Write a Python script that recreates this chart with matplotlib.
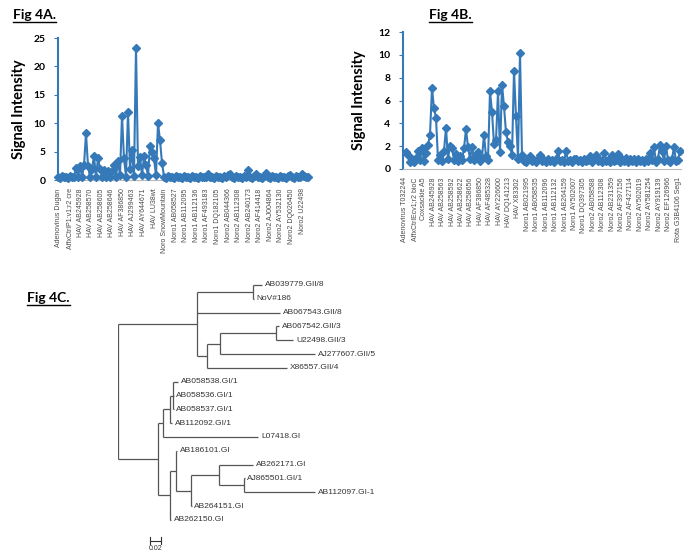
import numpy as np
import matplotlib
matplotlib.use('Agg')
import matplotlib.pyplot as plt
from matplotlib.lines import Line2D

BLUE = '#3579B8'
TREE_COLOR = '#555555'

# Fig 4A: signal intensity per probe (probes in array order)
sig_a = [0.6, 0.4, 0.7, 0.5, 0.6, 0.4, 0.7, 0.5, 0.6, 2.2,
         0.5, 2.4, 0.6, 2.6, 8.2, 2.5, 0.5, 2.0, 4.2, 0.6,
         3.8, 2.0, 0.5, 1.8, 0.6, 1.6, 0.5, 1.5, 2.6, 0.6,
         3.3, 0.8, 11.3, 3.8, 0.6, 12.0, 2.0, 5.2, 0.7, 23.3,
         2.5, 4.1, 0.8, 4.2, 2.6, 0.7, 6.0, 5.0, 3.8, 0.8,
         10.0, 7.0, 3.0, 0.6, 0.4, 0.7, 0.5, 0.6, 0.4, 0.7,
         0.5, 0.6, 0.4, 0.7, 0.5, 0.6, 0.4, 0.7, 0.5, 0.6,
         0.4, 0.7, 0.5, 0.6, 0.5, 1.0, 0.5, 0.6, 0.4, 0.7,
         0.5, 0.6, 0.4, 0.7, 0.5, 0.9, 1.1, 0.6, 0.4, 0.7,
         0.5, 0.6, 0.4, 0.7, 0.5, 1.7, 0.6, 0.4, 0.7, 1.0,
         0.5, 0.6, 0.4, 0.7, 1.2, 0.6, 0.4, 0.7, 0.5, 0.6,
         0.4, 0.7, 0.5, 0.6, 0.4, 0.7, 0.9, 0.6, 0.4, 0.7,
         0.5, 0.6, 1.1, 0.7, 0.5, 0.6]

labels_a = ['Adenovirus Dugan', 'AffxCtrlP1:v1;r2 cre', 'HAV AB245928',
            'HAV AB258570', 'HAV AB258605', 'HAV AB258646', 'HAV AF386850',
            'HAV AJ299463', 'HAV AY644671', 'HAV LU38wt', 'Noro SnowMountain',
            'Noro1 AB058527', 'Noro1 AB112095', 'Noro1 AB112136',
            'Noro1 AF493183', 'Noro1 DQ182105', 'Noro2 AB044366',
            'Noro2 AB112308', 'Noro2 AB240173', 'Noro2 AF414418',
            'Noro2 AJ004864', 'Noro2 AY532130', 'Noro2 DQ026450', 'Noro2 U22498']

# Fig 4B
sig_b = [1.5, 1.2, 0.6, 0.9, 0.6, 1.0, 1.6, 0.8, 1.8, 0.7,
         1.4, 2.1, 3.0, 7.1, 5.3, 4.5, 0.8, 1.2, 0.7, 1.6,
         3.6, 0.9, 2.0, 1.8, 0.8, 1.3, 0.7, 1.1, 0.8, 1.8,
         3.5, 1.9, 0.9, 1.9, 0.8, 1.2, 1.5, 0.7, 1.0, 3.0,
         1.1, 0.8, 6.8, 5.0, 2.2, 2.5, 6.8, 1.5, 7.4, 5.5,
         3.2, 2.4, 2.0, 1.2, 8.6, 4.6, 0.9, 10.2, 1.2, 0.7,
         0.6, 0.9, 1.1, 0.7, 0.8, 0.6, 0.9, 1.2, 0.7, 0.8,
         0.6, 0.9, 0.7, 0.8, 0.6, 0.9, 1.6, 0.7, 0.8, 0.6,
         1.6, 0.7, 0.8, 0.6, 0.9, 0.9, 0.7, 0.8, 0.6, 0.9,
         0.7, 0.8, 1.1, 0.6, 0.9, 1.2, 0.7, 0.8, 0.6, 1.4,
         0.7, 0.8, 0.6, 1.2, 0.7, 0.8, 1.3, 0.6, 0.9, 0.7,
         1.0, 0.6, 0.9, 0.7, 0.9, 0.6, 0.9, 0.7, 0.8, 0.6,
         0.9, 0.7, 1.4, 0.8, 1.9, 0.6, 0.9, 2.1, 1.6, 0.7,
         2.0, 0.8, 0.6, 0.9, 1.9, 0.7, 0.8, 1.6]

labels_b = ['Adenovirus T032244', 'AffxCtrlEcv1;r2 bioC', 'Coxsackie A5',
            'HAV AB245928', 'HAV AB258563', 'HAV AB258592', 'HAV AB258622',
            'HAV AB258656', 'HAV AF386850', 'HAV AF485328', 'HAV AY226600',
            'HAV DQ141213', 'HAV X83302', 'Noro1 AB021995', 'Noro1 AB058535',
            'Noro1 AB112096', 'Noro1 AB112132', 'Noro1 AB264159',
            'Noro1 AY502007', 'Noro1 DQ397305', 'Noro2 AB058588',
            'Noro2 AB112308', 'Noro2 AB231359', 'Noro2 AF397156',
            'Noro2 AF427114', 'Noro2 AY502019', 'Noro2 AY581254',
            'Noro2 AY919139', 'Noro2 EF126966', 'Rota G3B4106 Seg1']

# Fig 4C: (name, branch length, children)
tree = ('', 0.0, [
    ('', 0.144, [
        ('', 0.102, [('AB039779.GII/8', 0.016), ('NoV#186', 0.001)]),
        ('AB067543.GII/8', 0.151),
        ('', 0.018, [
            ('', 0.024, [
                ('', 0.102, [('AB067542.GII/3', 0.005), ('U22498.GII/3', 0.031)]),
                ('AJ277607.GII/5', 0.173)]),
            ('X86557.GII/4', 0.145)])]),
    ('', 0.073, [
        ('', 0.009, [
            ('', 0.013, [
                ('', 0.005, [('AB058538.GI/1', 0.009), ('AB058536.GI/1', 0.001),
                             ('AB058537.GI/1', 0.001)]),
                ('AB112092.GI/1', 0.004)]),
            ('L07418.GI', 0.173)]),
        ('', 0.022, [
            ('', 0.011, [
                ('AB186101.GI', 0.001),
                ('', 0.027, [
                    ('', 0.051, [
                        ('AB262171.GI', 0.062),
                        ('', 0.045, [('AJ865501.GI/1', 0.001), ('AB112097.GI-1', 0.129)])]),
                    ('AB264151.GI', 0.001)])]),
            ('AB262150.GI', 0.001)])])])
scale_len = 0.02

fig = plt.figure(figsize=(6.84, 5.54), dpi=100)
W, H = 684.0, 554.0


def px_rect(left, top, right, bottom):
    return [left / W, 1 - bottom / H, (right - left) / W, (bottom - top) / H]


def signal_plot(rect, values, labels, label_pos, xlim, ymax, ystep, lab_x):
    ax = fig.add_axes(rect)
    ax.patch.set_visible(False)
    ax.plot(range(len(values)), values, color=BLUE, lw=1.5, marker='D',
            ms=4.2, clip_on=False, zorder=3)
    ax.set_xlim(xlim)
    ax.set_ylim(0, ymax)
    ax.set_yticks(np.arange(0, ymax + 0.1, ystep))
    ax.set_xticks(label_pos)
    ax.set_xticklabels(labels, rotation=90, fontsize=5,
                       family='Liberation Sans', color='#4a4a4a')
    ax.tick_params(axis='x', length=0, pad=6)
    ax.tick_params(axis='y', length=3, color=BLUE, labelsize=7.5, pad=6)
    for t in ax.get_yticklabels():
        t.set_fontweight('bold')
        t.set_family('Lato')
    for s in ['top', 'right']:
        ax.spines[s].set_visible(False)
    ax.spines['left'].set_color(BLUE)
    ax.spines['left'].set_linewidth(1.5)
    ax.spines['bottom'].set_color('#b8b8b8')
    ax.set_ylabel('Signal Intensity', fontsize=10.5, fontweight='bold',
                  family='Lato')
    ax.yaxis.set_label_coords(lab_x, 0.5)
    return ax


signal_plot(px_rect(58, 38, 308, 180), sig_a, labels_a,
            np.linspace(0.5, 122, len(labels_a)), (0, 125), 25, 5, -0.128)
signal_plot(px_rect(403, 32, 681, 169), sig_b, labels_b,
            np.linspace(-0.5, 136, len(labels_b)), (-1.5, 137.5), 12, 2, -0.133)

# tree
ax = fig.add_axes(px_rect(118, 278, 316, 553))
ax.axis('off')
ax.set_xlim(0, 0.36)
ax.set_ylim(19.39, -0.5)

leaf_count = [0]


def draw(node, x0):
    name, bl = node[0], node[1]
    x1 = x0 + bl
    if len(node) == 2:
        y = leaf_count[0]
        leaf_count[0] += 1
        ax.text(x1 + 0.005, y, name, fontsize=6, family='Liberation Sans',
                color='#333333', va='center', ha='left')
    else:
        ys = [draw(c, x1) for c in node[2]]
        y = (ys[0] + ys[-1]) / 2.0
        ax.plot([x1, x1], [ys[0], ys[-1]], color=TREE_COLOR, lw=0.9,
                solid_capstyle='butt')
    if bl > 0:
        ax.plot([x0, x1], [y, y], color=TREE_COLOR, lw=0.9,
                solid_capstyle='butt')
    return y


draw(tree, 0.0)

sx = 0.058
ax.plot([sx, sx + scale_len], [18.5, 18.5], color='#333333', lw=0.8)
ax.plot([sx, sx], [18.25, 18.75], color='#333333', lw=0.8)
ax.plot([sx + scale_len, sx + scale_len], [18.25, 18.75], color='#333333', lw=0.8)
ax.text(sx + scale_len / 2, 19.05, '%.2f' % scale_len, fontsize=5,
        family='Liberation Sans', color='#333333', ha='center', va='center')

# panel titles, underlined
renderer = fig.canvas.get_renderer()
for label, x, y in [('Fig 4A.', 13, 15), ('Fig 4B.', 429, 15), ('Fig 4C.', 27, 298)]:
    t = fig.text(x / W, 1 - y / H, label, fontsize=10, fontweight='bold',
                 family='Lato', ha='left', va='center')
    bb = t.get_window_extent(renderer)
    uy = bb.y0 - 1
    fig.add_artist(Line2D([bb.x0 / W, bb.x1 / W], [uy / H, uy / H],
                          color='black', lw=1.0, transform=fig.transFigure))

fig.savefig('out.png', dpi=100)
